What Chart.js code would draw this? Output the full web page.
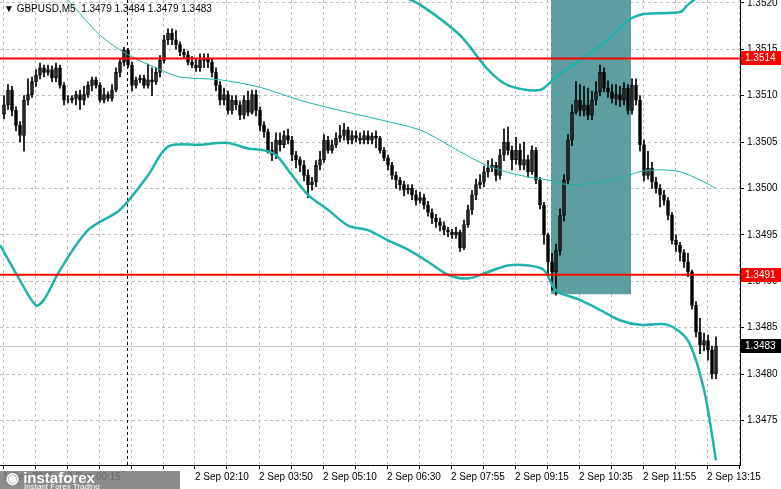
<!DOCTYPE html>
<html>
<head>
<meta charset="utf-8">
<script src="https://cdn.jsdelivr.net/npm/chart.js@4/dist/chart.umd.min.js"></script>
<style>
  body { margin: 0; background: #fff; }
  #wrap { position: relative; width: 781px; height: 489px; }
  #head { position: absolute; left: 4px; top: 3px; font: 10px "Liberation Sans", sans-serif; color: #000; }
  #logo { position: absolute; left: 0; top: 471px; width: 180px; height: 18px; background: rgba(120,120,120,0.85);
          color: #fff; font: bold 15px "Liberation Sans", sans-serif; line-height: 14px; padding-left: 6px; box-sizing: border-box; }
  #logo small { display: block; font: 8px "Liberation Sans", sans-serif; margin-top: -3px; padding-left: 18px; }
</style>
</head>
<body>
<div id="wrap">
  <canvas id="grafico" width="781" height="489"></canvas>
  <div id="head">▼ GBPUSD,M5&nbsp; 1.3479 1.3484 1.3479 1.3483</div>
  <div id="logo">◉ instaforex<small>Instant Forex Trading</small></div>
</div>
<script>
// DATI CANDELE (M5)
const primoOpen = 1.35080;
const closes = [
1.35090,1.35106,1.35084,1.35068,1.35057,1.35095,1.35101,1.35115,1.35122,1.35130,
1.35125,1.35128,1.35119,1.35130,1.35111,1.35095,1.35095,1.35097,1.35101,1.35095,
1.35101,1.35111,1.35117,1.35111,1.35095,1.35101,1.35097,1.35106,1.35125,1.35136,
1.35149,1.35133,1.35111,1.35117,1.35119,1.35111,1.35117,1.35115,1.35125,1.35138,
1.35160,1.35167,1.35160,1.35155,1.35147,1.35144,1.35136,1.35133,1.35130,1.35138,
1.35140,1.35136,1.35125,1.35111,1.35095,1.35101,1.35084,1.35095,1.35090,1.35079,
1.35095,1.35082,1.35101,1.35084,1.35068,1.35061,1.35041,1.35036,1.35052,1.35047,
1.35057,1.35052,1.35036,1.35031,1.35025,1.35014,1.35004,1.35007,1.35025,1.35031,
1.35052,1.35041,1.35047,1.35054,1.35057,1.35063,1.35052,1.35057,1.35054,1.35052,
1.35057,1.35052,1.35056,1.35054,1.35041,1.35033,1.35025,1.35014,1.35009,1.35004,
1.34998,1.35000,1.34993,1.34987,1.34990,1.34982,1.34974,1.34968,1.34964,1.34960,
1.34955,1.34953,1.34950,1.34953,1.34936,1.34961,1.34977,1.34993,1.35004,1.35007,
1.35018,1.35022,1.35025,1.35014,1.35036,1.35050,1.35041,1.35031,1.35041,1.35025,
1.35031,1.35018,1.35041,1.35009,1.34982,1.34950,1.34921,1.34910,1.34933,1.34971,
1.35009,1.35052,1.35082,1.35095,1.35084,1.35090,1.35079,1.35095,1.35104,1.35125,
1.35108,1.35104,1.35097,1.35101,1.35095,1.35108,1.35084,1.35111,1.35095,1.35047,
1.35014,1.35022,1.35007,1.35000,1.34993,1.34987,1.34971,1.34944,1.34939,1.34931,
1.34921,1.34910,1.34874,1.34845,1.34831,1.34836,1.34826,1.34800,1.34830];
const highs = [
1.35100,1.35112,1.35110,1.35088,1.35072,1.35100,1.35118,1.35120,1.35128,1.35135,
1.35133,1.35133,1.35132,1.35135,1.35133,1.35114,1.35100,1.35100,1.35105,1.35106,
1.35110,1.35115,1.35120,1.35120,1.35114,1.35108,1.35104,1.35112,1.35130,1.35140,
1.35152,1.35151,1.35136,1.35120,1.35122,1.35122,1.35134,1.35130,1.35130,1.35143,
1.35165,1.35172,1.35172,1.35170,1.35158,1.35150,1.35148,1.35142,1.35140,1.35145,
1.35145,1.35145,1.35140,1.35130,1.35115,1.35108,1.35105,1.35100,1.35100,1.35094,
1.35100,1.35105,1.35106,1.35106,1.35088,1.35072,1.35064,1.35050,1.35060,1.35060,
1.35062,1.35064,1.35056,1.35040,1.35034,1.35030,1.35020,1.35012,1.35030,1.35040,
1.35058,1.35056,1.35052,1.35060,1.35068,1.35070,1.35066,1.35062,1.35062,1.35060,
1.35062,1.35062,1.35060,1.35062,1.35056,1.35044,1.35036,1.35028,1.35018,1.35012,
1.35008,1.35004,1.35004,1.34998,1.34996,1.34994,1.34986,1.34978,1.34972,1.34968,
1.34964,1.34958,1.34956,1.34958,1.34955,1.34966,1.34982,1.34998,1.35010,1.35015,
1.35024,1.35030,1.35032,1.35028,1.35042,1.35064,1.35066,1.35046,1.35055,1.35048,
1.35050,1.35036,1.35046,1.35044,1.35012,1.34985,1.34952,1.34930,1.34940,1.34978,
1.35015,1.35058,1.35090,1.35115,1.35112,1.35110,1.35108,1.35105,1.35115,1.35133,
1.35130,1.35116,1.35112,1.35112,1.35110,1.35114,1.35112,1.35118,1.35118,1.35100,
1.35052,1.35040,1.35028,1.35012,1.35004,1.34998,1.34990,1.34974,1.34950,1.34942,
1.34934,1.34930,1.34912,1.34878,1.34860,1.34844,1.34842,1.34830,1.34840];
const lows = [
1.35075,1.35085,1.35078,1.35062,1.35050,1.35040,1.35090,1.35098,1.35110,1.35118,
1.35120,1.35122,1.35115,1.35115,1.35108,1.35090,1.35092,1.35092,1.35090,1.35085,
1.35090,1.35098,1.35105,1.35108,1.35093,1.35092,1.35094,1.35094,1.35104,1.35120,
1.35132,1.35130,1.35105,1.35108,1.35114,1.35108,1.35108,1.35100,1.35112,1.35120,
1.35135,1.35155,1.35155,1.35150,1.35143,1.35140,1.35133,1.35130,1.35126,1.35126,
1.35130,1.35130,1.35120,1.35105,1.35090,1.35090,1.35080,1.35080,1.35085,1.35074,
1.35075,1.35078,1.35080,1.35078,1.35062,1.35055,1.35038,1.35030,1.35032,1.35040,
1.35044,1.35048,1.35030,1.35022,1.35018,1.35008,1.34990,1.34998,1.35002,1.35020,
1.35028,1.35038,1.35038,1.35044,1.35050,1.35052,1.35048,1.35048,1.35050,1.35048,
1.35048,1.35048,1.35048,1.35044,1.35038,1.35030,1.35020,1.35010,1.35000,1.34998,
1.34992,1.34994,1.34988,1.34982,1.34984,1.34978,1.34970,1.34962,1.34958,1.34954,
1.34950,1.34948,1.34946,1.34946,1.34932,1.34934,1.34958,1.34972,1.34988,1.35000,
1.35002,1.35012,1.35018,1.35008,1.35010,1.35030,1.35036,1.35020,1.35026,1.35020,
1.35020,1.35012,1.35015,1.35005,1.34978,1.34940,1.34905,1.34890,1.34885,1.34928,
1.34965,1.35004,1.35046,1.35080,1.35078,1.35078,1.35074,1.35074,1.35090,1.35100,
1.35104,1.35098,1.35092,1.35090,1.35088,1.35090,1.35080,1.35080,1.35090,1.35040,
1.35008,1.35010,1.35000,1.34995,1.34980,1.34982,1.34966,1.34940,1.34932,1.34922,
1.34915,1.34905,1.34870,1.34840,1.34822,1.34825,1.34815,1.34795,1.34795];
const opens = closes.map((c, i) => i === 0 ? primoOpen : closes[i - 1]);

// BANDE DI BOLLINGER (indice barra, prezzo)
const upperIdx = [99,104,114,121,126,134,138,144,151,156,160,169,171,174];
const upperVal = [1.35208,1.35198,1.35165,1.35128,1.35111,1.35106,1.35120,1.35138,1.35160,1.35181,1.35188,1.35190,1.35198,1.35208];
const midIdx = [16,24,31,39,44,54,64,74,84,94,104,111,119,124,129,136,141,146,154,159,164,169,174,178];
const midVal = [1.35203,1.35165,1.35144,1.35128,1.35120,1.35117,1.35109,1.35095,1.35084,1.35074,1.35063,1.35047,1.35028,1.35020,1.35014,1.35009,1.35004,1.35005,1.35011,1.35018,1.35020,1.35018,1.35009,1.35000];
const lowerIdx = [-1,4,8,10,14,21,29,36,41,49,56,61,65,68,71,76,81,86,91,96,101,106,111,116,121,126,131,135,138,144,149,154,159,166,171,175,178];
const lowerVal = [1.34939,1.34901,1.34874,1.34880,1.34912,1.34955,1.34977,1.35014,1.35045,1.35047,1.35049,1.35043,1.35041,1.35036,1.35020,1.34993,1.34977,1.34960,1.34955,1.34944,1.34934,1.34921,1.34907,1.34903,1.34910,1.34917,1.34917,1.34912,1.34890,1.34880,1.34869,1.34858,1.34853,1.34853,1.34836,1.34783,1.34707];

// LIVELLI E ASSI
const livelli = [1.35140, 1.34907];
const prezzoAttuale = 1.3483;
const separatore = 30.75;
const zona = { x0: 136.75, x1: 156.75, yTop: 1.35210, yBot: 1.34886 };
const tickIdx = [-0.25,15.75,31.75,47.75,63.75,79.75,95.75,111.75,127.75,143.75,159.75,175.75];
const tickLab = ['1 Sep 2025','2 Sep 00:15','','2 Sep 02:10','2 Sep 03:50','2 Sep 05:10','2 Sep 06:30','2 Sep 07:55','2 Sep 09:15','2 Sep 10:35','2 Sep 11:55','2 Sep 13:15'];
const yMin = 1.34702, yMax = 1.35203;
const FONT = { family: 'Liberation Sans', size: 10 };

const pts = (xs, ys) => xs.map((x, i) => ({ x, y: ys[i] }));
const up = i => closes[i] >= opens[i];

const disegnoExtra = {
  id: 'extra',
  beforeDatasetsDraw(chart) {
    const { ctx, scales: { x, y }, chartArea: a } = chart;
    ctx.save();
    ctx.fillStyle = 'rgb(95,158,160)';
    const top = Math.max(y.getPixelForValue(zona.yTop), a.top);
    ctx.fillRect(x.getPixelForValue(zona.x0), top, x.getPixelForValue(zona.x1) - x.getPixelForValue(zona.x0), y.getPixelForValue(zona.yBot) - top);
    ctx.strokeStyle = '#000'; ctx.lineWidth = 1; ctx.setLineDash([3, 3]);
    const sx = Math.round(x.getPixelForValue(separatore)) + 0.5;
    ctx.beginPath(); ctx.moveTo(sx, a.top); ctx.lineTo(sx, a.bottom); ctx.stroke();
    ctx.setLineDash([]);
    ctx.strokeStyle = '#c0c0c0';
    const py = Math.round(y.getPixelForValue(prezzoAttuale)) + 0.5;
    ctx.beginPath(); ctx.moveTo(a.left, py); ctx.lineTo(a.right, py); ctx.stroke();
    ctx.restore();
  },
  afterDatasetsDraw(chart) {
    const { ctx, scales: { y }, chartArea: a } = chart;
    ctx.save();
    ctx.strokeStyle = '#ff0000'; ctx.lineWidth = 2;
    livelli.forEach(l => {
      const py = y.getPixelForValue(l);
      ctx.beginPath(); ctx.moveTo(a.left, py); ctx.lineTo(a.right, py); ctx.stroke();
    });
    ctx.restore();
  },
  afterDraw(chart) {
    const { ctx, scales: { y }, chartArea: a } = chart;
    ctx.save();
    ctx.font = '10px "Liberation Sans"';
    ctx.textBaseline = 'middle';
    const tag = (v, bg) => {
      const py = Math.round(y.getPixelForValue(v));
      ctx.fillStyle = bg; ctx.fillRect(a.right + 1, py - 7, 40, 14);
      ctx.fillStyle = '#fff'; ctx.fillText(v.toFixed(4), a.right + 5, py);
    };
    livelli.forEach(l => tag(l, '#ff0000'));
    tag(prezzoAttuale, '#000');
    ctx.restore();
  }
};

new Chart(document.getElementById('grafico'), {
  data: {
    datasets: [
      { type: 'line', data: pts(upperIdx, upperVal), borderColor: '#20b2aa', borderWidth: 2.5, pointRadius: 0, tension: 0.3 },
      { type: 'line', data: pts(midIdx, midVal), borderColor: '#20b2aa', borderWidth: 1, pointRadius: 0, tension: 0.3 },
      { type: 'line', data: pts(lowerIdx, lowerVal), borderColor: '#20b2aa', borderWidth: 2.5, pointRadius: 0, tension: 0.3 },
      { type: 'bar', grouped: false, barThickness: 1, backgroundColor: '#000',
        data: closes.map((c, i) => ({ x: i, y: [lows[i], highs[i]] })) },
      { type: 'bar', grouped: false, barThickness: 3, borderWidth: 1, borderColor: '#000', borderSkipped: false,
        backgroundColor: ctx => up(ctx.dataIndex) ? '#fff' : '#000',
        data: closes.map((c, i) => ({ x: i, y: [opens[i], c === opens[i] ? c + 0.000004 : c] })) }
    ]
  },
  options: {
    responsive: false, animation: false,
    layout: { padding: 0 },
    plugins: { legend: { display: false }, tooltip: { enabled: false } },
    scales: {
      x: {
        type: 'linear', min: -1, max: 184, offset: false,
        afterBuildTicks: s => { const t = []; for (let v = -0.25; v <= 184; v += 8) t.push({ value: v }); s.ticks = t; },
        afterFit: s => { s.height = 24; s.paddingLeft = 0; s.paddingRight = 0; },
        grid: { color: '#c0c0c0', tickLength: 4, tickColor: '#000', offset: false },
        border: { color: '#000', dash: [3, 3] },
        ticks: { font: FONT, color: '#000', maxRotation: 0, autoSkip: false, align: 'start', padding: 2,
          callback: v => { const k = tickIdx.indexOf(v); return k >= 0 ? tickLab[k] : ''; } }
      },
      y: {
        position: 'right', min: yMin, max: yMax,
        afterFit: s => { s.width = 41; s.paddingTop = 0; s.paddingBottom = 0; },
        grid: { color: '#c0c0c0', tickLength: 4, tickColor: '#000' },
        border: { color: '#000', dash: [3, 3] },
        ticks: { stepSize: 0.0005, includeBounds: false, font: FONT, color: '#000', padding: 3,
          callback: v => v.toFixed(4) }
      }
    }
  },
  plugins: [disegnoExtra]
});
</script>
</body>
</html>
